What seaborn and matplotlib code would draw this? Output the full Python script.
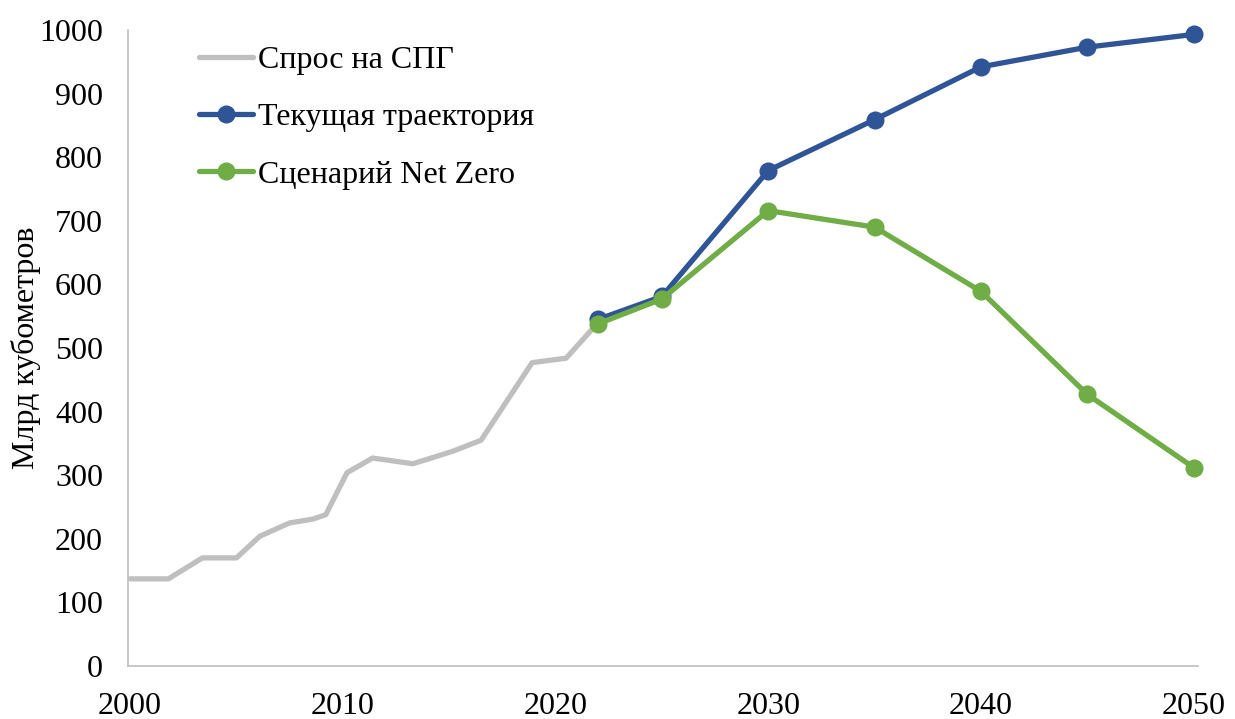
import pandas as pd
import seaborn as sns
import matplotlib.pyplot as plt
from matplotlib.lines import Line2D

# Спрос на СПГ (исторический)
hist_years = [2000, 2001.8, 2003.4, 2005.0, 2006.1, 2007.5, 2008.6, 2009.2, 2010.2,
              2011.4, 2013.3, 2015.2, 2016.5, 2018.9, 2020.5, 2022]
hist_vals = [137, 137, 170, 170, 204, 225, 231, 238, 304, 327, 318, 338, 355, 477, 484, 540]

# прогнозы
proj_years = [2022, 2025, 2030, 2035, 2040, 2045, 2050]
cur_vals = [545, 581, 779, 859, 942, 973, 993]
nz_vals = [538, 577, 716, 690, 589, 427, 312]

labels = ['Спрос на СПГ', 'Текущая траектория', 'Сценарий Net Zero']
colors = ['#BFBFBF', '#2F5597', '#70AD47']

sns.set_style('white')
plt.rcParams['font.family'] = ['Liberation Serif', 'DejaVu Serif']
plt.rcParams['text.color'] = 'black'
plt.rcParams['xtick.color'] = 'black'
plt.rcParams['ytick.color'] = 'black'
plt.rcParams['axes.labelcolor'] = 'black'

hist = pd.DataFrame({'year': hist_years, 'val': hist_vals})
proj = pd.DataFrame({'year': proj_years, 'cur': cur_vals, 'nz': nz_vals})

fig = plt.figure(figsize=(12.35, 7.19), dpi=100)
ax = fig.add_axes([0.1036, 0.0737, 0.8664, 0.8846])

lw = 3.8
ms = 13
sns.lineplot(data=hist, x='year', y='val', color=colors[0], lw=lw, ax=ax,
             solid_capstyle='round')
sns.lineplot(data=proj, x='year', y='nz', color=colors[2], lw=lw, marker='o',
             markersize=ms, markeredgewidth=0, ax=ax, clip_on=False)
sns.lineplot(data=proj, x='year', y='cur', color=colors[1], lw=lw, marker='o',
             markersize=ms, markeredgewidth=0, ax=ax, zorder=1.5, clip_on=False)

ax.set_xlim(1999.9, 2050.2)
ax.set_ylim(0, 1000)
ax.set_xticks(range(2000, 2051, 10))
ax.set_yticks(range(0, 1001, 100))
ax.tick_params(axis='both', length=0, labelsize=23)
ax.tick_params(axis='y', pad=18)
ax.tick_params(axis='x', pad=19)
ax.set_xlabel('')
ax.set_ylabel('Млрд кубометров', fontsize=23, labelpad=-1.5)

sns.despine(ax=ax)
for s in ['left', 'bottom']:
    ax.spines[s].set_color('#BFBFBF')
    ax.spines[s].set_linewidth(1.2)

handles = [Line2D([], [], color=colors[0], lw=lw),
           Line2D([], [], color=colors[1], lw=lw, marker='o', markersize=ms, markeredgewidth=0),
           Line2D([], [], color=colors[2], lw=lw, marker='o', markersize=ms, markeredgewidth=0)]
ax.legend(handles, labels, loc='upper left', bbox_to_anchor=(0.0514, 1.0),
          frameon=False, fontsize=23, handlelength=1.7, handletextpad=0.15,
          labelspacing=0.87, borderpad=0)

fig.savefig('out.png', dpi=100)
